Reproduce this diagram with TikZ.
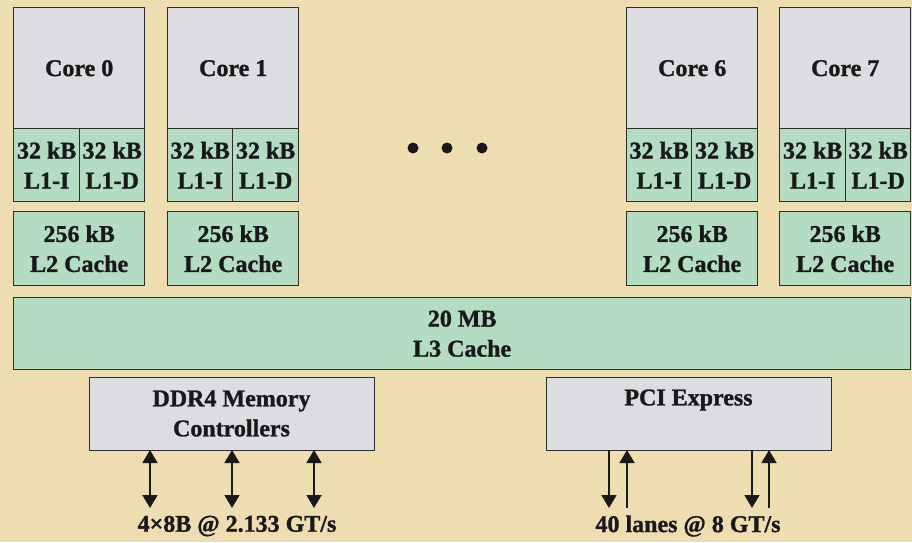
\documentclass[tikz,border=0pt]{standalone}
\usepackage{fontspec}
\setmainfont{Liberation Serif}[BoldFeatures={FakeBold=1.2}]
\usetikzlibrary{arrows.meta}
\definecolor{bgc}{RGB}{239,221,178}
\definecolor{grayc}{RGB}{220,221,224}
\definecolor{greenc}{RGB}{179,220,194}
\definecolor{linec}{RGB}{45,45,45}
\begin{document}
\begin{tikzpicture}[x=1pt,y=-1pt,
  every node/.style={font=\fontsize{24}{30}\selectfont\bfseries, text=black!90, inner sep=0pt, align=center},
  boxc/.style={draw=linec, line width=1.4pt, fill=grayc, anchor=north west},
  boxg/.style={draw=linec, line width=1.4pt, fill=greenc, anchor=north west},
  arr/.style={line width=1.8pt, draw=black!90, -{Triangle[width=15pt,length=13pt]}},
  darr/.style={line width=1.8pt, draw=black!90, {Triangle[width=15pt,length=13pt]}-{Triangle[width=15pt,length=13pt]}}]
\fill[bgc] (0,0) rectangle (912,542);
\useasboundingbox (0,0) rectangle (912,542);
% cores
\foreach \n/\x/\d in {0/13/79, 1/167/232, 6/626/691, 7/779/845}{
  \node[boxc, minimum width=131, minimum height=121] (core\n) at (\x,7) {Core \n};
  \node[boxg, minimum width=\d-\x, minimum height=73] (lI\n) at (\x,128) {32 kB\\L1-I};
  \node[boxg, minimum width=\x+131-\d, minimum height=73] (lD\n) at (\d,128) {32 kB\\L1-D};
  \node[boxg, minimum width=131, minimum height=74] (ltwo\n) at (\x,211) {256 kB\\L2 Cache};
}
% dots
\foreach \x in {413,447,482}{\fill[black!90] (\x,148) circle (5.5);}
% L3
\node[boxg, minimum width=897, minimum height=72] (l3) at (13,297) {20 MB\\L3 Cache};
% DDR4
\node[boxc, minimum width=285, minimum height=73] (ddr) at (89,377) {};
\node (ddrt) at (231.5,413.5) {DDR4 Memory\\Controllers};
% PCI
\node[boxc, minimum width=285, minimum height=73] (pci) at (546,377) {};
\node (pcit) at (688.5,400) {PCI Express};
% labels
\node (ddrlab) at (237,526) {4×8B @ 2.133 GT/s};
\node (pcilab) at (688,526) {40 lanes @ 8 GT/s};
% arrows
\foreach \x in {150,232,314}{
  \coordinate (dt\x) at (\x,450);
  \coordinate (db\x) at (\x,508);
  \draw[darr] (dt\x) -- (db\x);
}
\foreach \x in {609,752}{
  \coordinate (pt\x) at (\x,450);
  \coordinate (pb\x) at (\x,508);
  \draw[arr] (pt\x) -- (pb\x);
}
\foreach \x in {627,769}{
  \coordinate (pt\x) at (\x,508);
  \coordinate (pb\x) at (\x,450);
  \draw[arr] (pt\x) -- (pb\x);
}
\end{tikzpicture}
\end{document}
